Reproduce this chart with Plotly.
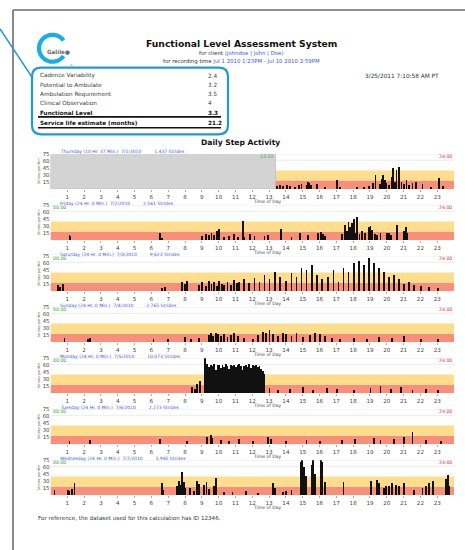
import math
import plotly.graph_objects as go

W, H = 465, 550

# ---------------- data ----------------
metric_names = ["Cadence Variability", "Potential to Ambulate", "Ambulation Requirement",
                "Clinical Observation", "Functional Level", "Service life estimate (months)"]
metric_values = ["2.4", "3.2", "3.5", "4", "3.3", "21.2"]

day_names = ["Thursday (10 Hr. 37 Min.)", "Friday (24 Hr. 0 Min.)", "Saturday (24 Hr. 0 Min.)",
             "Sunday (24 Hr. 0 Min.)", "Monday (24 Hr. 0 Min.)", "Tuesday (24 Hr. 0 Min.)",
             "Wednesday (24 Hr. 0 Min.)"]
day_dates = ["7/1/2010", "7/2/2010", "7/3/2010", "7/4/2010", "7/5/2010", "7/6/2010", "7/7/2010"]
day_strides = ["1,437 Strides", "2,561 Strides", "9,623 Strides", "2,765 Strides",
               "10,073 Strides", "2,273 Strides", "3,945 Strides"]
start_labels = ["13:23", "00:00", "00:00", "00:00", "00:00", "00:00", "00:00"]
start_hours = [13.38, 0, 0, 0, 0, 0, 0]
end_label = "24:00"

hour_ticks = list(range(1, 24))
cadence_ticks = [15, 30, 45, 60, 75]
band_low = 18      # red zone top (strides/min)
band_mid = 40      # yellow zone top

thu_h = [13.45, 13.6, 13.8, 14.05, 14.2, 14.5, 14.75, 14.9, 15.2, 15.3, 15.35, 15.45, 15.8, 16.3, 17.0, 17.2,
         18.2, 18.6, 18.9, 19.15, 19.3, 19.55, 19.7, 19.75, 19.85, 19.95, 20.1, 20.25, 20.35, 20.45, 20.55,
         20.7, 20.85, 21.0, 21.15, 21.3, 21.5, 21.7, 22.1, 22.6, 23.1, 23.3]
thu_v = [6, 8, 5, 9, 7, 4, 8, 10, 9, 14, 12, 8, 10, 3, 20, 3,
         3, 4, 6, 12, 29, 10, 22, 29, 18, 12, 9, 25, 44, 15, 40,
         47, 14, 10, 18, 9, 12, 15, 10, 4, 23, 5]

fri_h = [1.1, 1.15, 6.5, 6.6, 9.0, 9.2, 9.4, 9.55, 9.7, 9.85, 10.0, 10.3, 10.6, 10.9, 11.1, 11.4, 11.5, 11.85,
         12.1, 12.7, 12.9, 13.7, 14.3, 14.8, 15.3, 15.9, 16.05, 16.2, 16.3, 17.3, 17.5, 17.6, 17.7, 17.8, 17.9,
         18.0, 18.1, 18.2, 18.35, 18.5, 18.7, 18.9, 19.0, 19.1, 19.25, 19.4, 19.6, 20.0, 20.1, 20.2, 20.6,
         21.0, 21.1, 21.2]
fri_v = [10, 8, 14, 4, 8, 12, 10, 14, 11, 18, 24, 6, 9, 12, 7, 40, 6, 12,
         8, 8, 10, 24, 6, 14, 10, 14, 16, 12, 8, 12, 32, 20, 39, 28, 36,
         44, 15, 50, 12, 18, 14, 28, 30, 22, 12, 10, 14, 14, 15, 10, 31,
         20, 27, 15]

sat_h = [0.4, 0.55, 0.7, 6.6, 6.8, 7.8, 7.95, 8.1, 8.8, 9.0, 9.2, 9.4, 9.55, 9.7, 9.85, 10.0, 10.15, 10.3,
         10.5, 10.7, 10.9, 11.05, 11.2, 11.5, 11.8, 12.1, 12.4, 12.7, 13.0, 13.3, 13.6, 14.0, 14.3, 14.6,
         14.9, 15.2, 15.5, 15.8, 16.1, 16.5, 16.8, 17.1, 17.4, 17.7, 18.0, 18.3, 18.6, 18.9, 19.2, 19.5,
         19.8, 20.1, 20.4, 20.7, 21.0, 21.3, 21.6, 22.0, 22.5, 23.0]
sat_v = [12, 8, 14, 6, 8, 20, 14, 22, 12, 18, 10, 21, 14, 19, 11, 22, 15, 13,
         20, 12, 24, 16, 20, 25, 16, 28, 20, 35, 25, 40, 30, 22, 38, 30,
         50, 45, 55, 35, 25, 30, 45, 20, 50, 40, 60, 65, 55, 70, 60, 50,
         40, 30, 35, 25, 15, 20, 12, 10, 8, 5]

sun_h = [0.8, 2.2, 2.3, 6.1, 6.95, 7.95, 8.35, 8.8, 9.4, 9.5, 9.65, 9.8, 9.95, 10.1, 10.3, 10.5, 10.7, 10.9,
         11.1, 11.5, 12.0, 12.3, 12.6, 12.8, 13.0, 13.2, 13.5, 13.8, 14.0, 14.3, 14.6, 15.0, 15.4, 15.7, 16.0,
         16.3, 16.7, 17.2, 18.0, 18.8, 19.5, 20.3, 21.0, 22.0, 23.0]
sun_v = [8, 6, 9, 7, 5, 10, 6, 8, 14, 18, 12, 20, 16, 12, 17, 10, 14, 20,
         12, 8, 6, 14, 22, 18, 25, 16, 12, 20, 16, 12, 18, 10, 14, 20, 16,
         12, 8, 6, 8, 6, 10, 8, 12, 6, 5]

mon_h = [8.4, 8.55, 8.7, 8.85, 9.15, 9.2, 9.3, 9.4, 9.5, 9.6, 9.7, 9.8, 9.9, 10.0, 10.1, 10.2, 10.3, 10.4,
         10.5, 10.6, 10.7, 10.8, 10.9, 11.0, 11.1, 11.2, 11.3, 11.4, 11.5, 11.6, 11.7, 11.8, 11.9, 12.0,
         12.1, 12.2, 12.3, 12.4, 12.5, 12.6, 12.7, 13.0, 13.5, 14.2, 15.0, 15.6, 16.4, 17.0, 18.0, 19.0,
         19.6, 20.2, 20.8, 21.5, 22.3, 23.0]
mon_v = [13, 8, 20, 26, 75, 58, 62, 55, 60, 57, 63, 50, 59, 61, 54, 60, 56, 62,
         58, 52, 60, 57, 61, 55, 59, 63, 57, 50, 58, 60, 56, 62, 54, 59,
         57, 61, 55, 58, 52, 48, 40, 10, 6, 8, 12, 6, 10, 8, 6, 10,
         14, 8, 12, 6, 8, 5]

tue_h = [1.1, 2.3, 6.5, 8.1, 9.3, 9.5, 9.6, 10.1, 10.6, 11.2, 12.0, 12.9, 13.1, 14.0, 15.2, 16.0, 17.3,
         18.1, 19.2, 19.6, 20.4, 21.0, 21.5, 22.3, 23.2]
tue_v = [6, 8, 10, 6, 15, 20, 12, 8, 6, 10, 6, 14, 10, 6, 8, 6, 8,
         10, 12, 8, 10, 14, 25, 8, 6]

wed_h = [0.21, 1.0, 1.1, 1.25, 1.4, 6.6, 6.65, 7.5, 7.6, 7.7, 7.8, 7.9, 8.0, 8.25, 8.5, 8.7, 8.8, 9.1, 9.25,
         9.4, 9.7, 9.83, 10.3, 10.8, 11.6, 12.3, 13.2, 13.3, 13.8, 14.0, 14.3, 14.85, 14.95, 15.05, 15.15,
         15.5, 15.6, 15.7, 16.05, 16.1, 16.3, 17.4, 19.05, 19.4, 19.5, 19.8, 19.95, 20.1, 20.3, 20.5, 20.7,
         21.0, 21.6, 22.1, 22.3, 22.5, 22.7, 23.5, 23.6, 23.7]
wed_v = [11, 10, 8, 12, 25, 25, 10, 20, 30, 22, 50, 28, 15, 15, 8, 30, 24, 22, 28,
         12, 20, 37, 5, 6, 8, 4, 25, 15, 6, 8, 10, 70, 75, 60, 40,
         65, 75, 45, 75, 70, 28, 28, 30, 32, 25, 15, 20, 18, 25, 22, 18,
         25, 10, 15, 20, 25, 30, 35, 43, 20]

day_hours = [thu_h, fri_h, sat_h, sun_h, mon_h, tue_h, wed_h]
day_values = [thu_v, fri_v, sat_v, sun_v, mon_v, tue_v, wed_v]

# ---------------- helpers (pixel -> paper) ----------------
def fx(x):
    return x / W


def fy(y):
    return 1 - y / H


FONT = "DejaVu Sans"
BLUE = "#1f9ad6"
LINK = "#3f55d6"
RED_BAND = "#f98f78"
YEL_BAND = "#fedd8c"

fig = go.Figure()
shapes = []
annotations = []


def note(x, y, text, size, color="#333", xanchor="left", bold=False, angle=0):
    annotations.append(dict(x=fx(x), y=fy(y), xref="paper", yref="paper", showarrow=False,
                            xanchor=xanchor, yanchor="middle", textangle=angle,
                            text=f"<b>{text}</b>" if bold else text,
                            font=dict(family=FONT, size=size, color=color)))


# ---------------- page frame ----------------
shapes.append(dict(type="line", xref="paper", yref="paper", x0=fx(13), y0=fy(7), x1=fx(465), y1=fy(7),
                   line=dict(color="#6b6b6b", width=1.6)))
shapes.append(dict(type="line", xref="paper", yref="paper", x0=fx(13), y0=fy(7), x1=fx(13), y1=fy(550),
                   line=dict(color="#6b6b6b", width=1.6)))

# ---------------- logo ----------------
cx, cy, r = 52.5, 45.5, 13.5
pts = []
for k in range(0, 61):
    a = math.radians(35 + k * (290 / 60))
    pts.append((cx + r * math.cos(a), cy - r * math.sin(a)))
path = "M " + " L ".join(f"{fx(x):.5f},{fy(y):.5f}" for x, y in pts)
shapes.append(dict(type="path", xref="paper", yref="paper", path=path,
                   line=dict(color="#19aee0", width=4.2)))
note(44.5, 49, "Galile●", 5.6, color="#6a6a6a", bold=True)
note(68, 62, "®", 3, color="#888")

# ---------------- blue highlight box + pointer line ----------------
x0, y0, x1, y1, rr = 32, 65, 228, 132, 9
box = (f"M {fx(x0+rr)},{fy(y0)} L {fx(x1-rr)},{fy(y0)} Q {fx(x1)},{fy(y0)} {fx(x1)},{fy(y0+rr)} "
       f"L {fx(x1)},{fy(y1-rr)} Q {fx(x1)},{fy(y1)} {fx(x1-rr)},{fy(y1)} "
       f"L {fx(x0+rr)},{fy(y1)} Q {fx(x0)},{fy(y1)} {fx(x0)},{fy(y1-rr)} "
       f"L {fx(x0)},{fy(y0+rr)} Q {fx(x0)},{fy(y0)} {fx(x0+rr)},{fy(y0)} Z")
shapes.append(dict(type="path", xref="paper", yref="paper", path=box, line=dict(color=BLUE, width=2.2)))
shapes.append(dict(type="line", xref="paper", yref="paper", x0=fx(0), y0=fy(26), x1=fx(33), y1=fy(76),
                   line=dict(color=BLUE, width=1.6)))

# ---------------- header texts ----------------
note(242, 41, "Functional Level Assessment System", 9.2, color="#111", xanchor="center", bold=True)
note(242, 51, f"for client <span style='color:{LINK}'>(johndoe | John | Doe)</span>", 5.4,
     xanchor="center")
note(242, 59, f"for recording time <span style='color:{LINK}'>Jul 1 2010 1:23PM - Jul 10 2010 2:59PM</span>",
     5.4, xanchor="center")
note(363, 73, "3/25/2011 7:10:58 AM PT", 5.8)

# ---------------- metrics table ----------------
row_y = [73, 82.3, 91.6, 100.9, 110.2, 121]
for i, (nm, val) in enumerate(zip(metric_names, metric_values)):
    bold = i >= 4
    col = "#111" if bold else "#3a3a3a"
    note(38, row_y[i], nm, 5.7, color=col, bold=bold)
    note(206, row_y[i], val, 5.7, color=col, bold=bold)
for ly in (114.5, 125.5):
    shapes.append(dict(type="line", xref="paper", yref="paper", x0=fx(38), x1=fx(221), y0=fy(ly), y1=fy(ly),
                       line=dict(color="#111", width=1.6)))

note(240, 140, "Daily Step Activity", 7.6, color="#111", xanchor="center", bold=True)

# ---------------- daily panels ----------------
PL, PR = 50.5, 454
layout_axes = {}
for i in range(7):
    top = 152 + 51.3 * i
    bot = top + 35
    n = "" if i == 0 else str(i + 1)
    xa, ya = "x" + n, "y" + n
    layout_axes["xaxis" + n] = dict(domain=[fx(PL), fx(PR)], anchor=ya, range=[0, 24],
                                    tickvals=hour_ticks, ticks="outside", ticklen=2, tickcolor="#aaa",
                                    tickfont=dict(family=FONT, size=5.6, color="#444"),
                                    showgrid=False, zeroline=False, showline=False, fixedrange=True)
    layout_axes["yaxis" + n] = dict(domain=[fy(bot), fy(top)], anchor=xa, range=[0, 75],
                                    tickvals=cadence_ticks, ticks="", ticklen=0,
                                    tickfont=dict(family=FONT, size=5.4, color="#444"),
                                    showgrid=False, zeroline=False, showline=False, fixedrange=True)
    # bands
    shapes.append(dict(type="rect", xref=xa, yref=ya, x0=0, x1=24, y0=0, y1=band_low,
                       fillcolor=RED_BAND, line=dict(width=0), layer="below"))
    shapes.append(dict(type="rect", xref=xa, yref=ya, x0=0, x1=24, y0=band_low, y1=band_mid,
                       fillcolor=YEL_BAND, line=dict(width=0), layer="below"))
    for gl in (62, 75):
        shapes.append(dict(type="line", xref=xa, yref=ya, x0=0, x1=24, y0=gl, y1=gl,
                           line=dict(color="#e6e6e6", width=0.8), layer="below"))
    if start_hours[i] > 0:
        shapes.append(dict(type="rect", xref=xa, yref=ya, x0=0, x1=start_hours[i], y0=0, y1=75,
                           fillcolor="#d3d3d3", line=dict(color="#bdbdbd", width=0.8), layer="below"))
    fig.add_trace(go.Bar(x=day_hours[i], y=day_values[i], xaxis=xa, yaxis=ya, width=0.05,
                         marker=dict(color="#111", line=dict(width=0)), showlegend=False, hoverinfo="skip"))
    # panel texts
    note(58, top - 2.2, f"{day_names[i]}&nbsp;&nbsp;{day_dates[i]}" + "&nbsp;" * 9 + day_strides[i],
         4.5, color=LINK)
    annotations.append(dict(x=start_hours[i], y=70, xref=xa, yref=ya, showarrow=False,
                            xanchor="right" if start_hours[i] > 0 else "left", yanchor="middle",
                            text=start_labels[i], font=dict(family=FONT, size=4.6, color="#3aa53a")))
    annotations.append(dict(x=24, y=70, xref=xa, yref=ya, showarrow=False, xanchor="right", yanchor="middle",
                            text=end_label, font=dict(family=FONT, size=4.6, color="#c8403a")))
    note(267, bot + 12.8, "Time of Day", 4.5, color="#444", xanchor="center")
    note(38.5, top + 17.5, "Strides per Min", 3.4, color="#555", xanchor="center", angle=-90)

note(36, 518, "For reference, the dataset used for this calculation has ID 12346.", 5.6)

fig.update_layout(width=W, height=H, margin=dict(l=0, r=0, t=0, b=0), paper_bgcolor="white",
                  plot_bgcolor="white", barmode="overlay", bargap=0, showlegend=False,
                  shapes=shapes, annotations=annotations, **layout_axes)

fig.write_html("out.html", config={"displayModeBar": False},
               post_script="document.body.style.margin='0px';document.body.style.overflow='hidden';")
